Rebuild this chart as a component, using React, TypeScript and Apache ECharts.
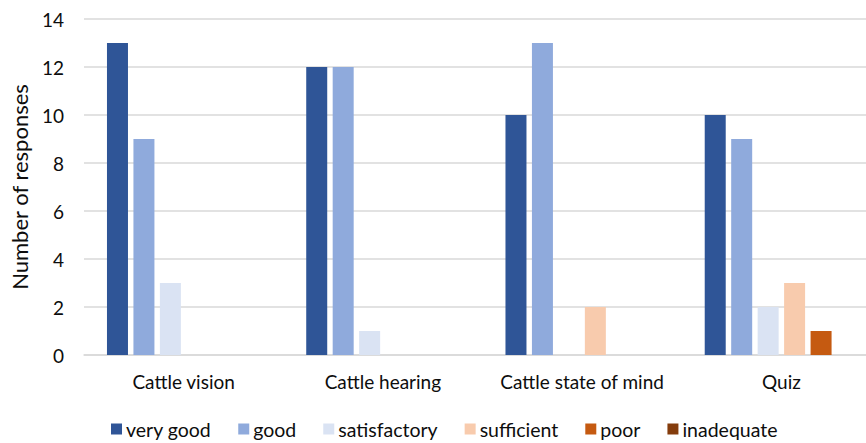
import React, { useEffect, useRef } from "react";
import * as echarts from "echarts";

const categories = ["Cattle vision", "Cattle hearing", "Cattle state of mind", "Quiz"];
const seriesNames = ["very good", "good", "satisfactory", "sufficient", "poor", "inadequate"];
const veryGood = [13, 12, 10, 10];
const good = [9, 12, 13, 9];
const satisfactory = [3, 1, 0, 2];
const sufficient = [0, 0, 2, 3];
const poor = [0, 0, 0, 1];
const inadequate = [0, 0, 0, 0];
const seriesValues = [veryGood, good, satisfactory, sufficient, poor, inadequate];
const colors = ["#2F5597", "#8FAADC", "#DAE3F3", "#F8CBAD", "#C55A11", "#843C0C"];
const yTicks = { min: 0, max: 14, interval: 2 };

const FONT = "Lato";
const TEXT = "#0d0d0d";

export default function App() {
  const ref = useRef<HTMLDivElement>(null);
  useEffect(() => {
    if (!ref.current) return;
    const chart = echarts.init(ref.current, null, { renderer: "svg" });
    chart.setOption({
      animation: false,
      backgroundColor: "#ffffff",
      textStyle: { fontFamily: FONT, color: TEXT },
      grid: { left: 81, top: 19, width: 800, height: 336, containLabel: false },
      legend: {
        data: seriesNames,
        left: 106,
        top: 414,
        icon: "rect",
        itemWidth: 11,
        itemHeight: 11,
        itemGap: 27,
        textStyle: { fontFamily: FONT, fontSize: 19.5, color: TEXT, padding: [0, 0, 0, -1] },
      },
      xAxis: {
        type: "category",
        data: categories,
        axisTick: { show: false },
        axisLine: { lineStyle: { color: "#D9D9D9", width: 1.5 } },
        axisLabel: { fontFamily: FONT, fontSize: 19, color: TEXT, margin: 17, interval: 0 },
      },
      yAxis: {
        type: "value",
        min: yTicks.min,
        max: yTicks.max,
        interval: yTicks.interval,
        name: "Number of responses",
        nameLocation: "middle",
        nameGap: 54,
        nameTextStyle: { fontFamily: FONT, fontSize: 22, color: TEXT },
        axisLine: { show: false },
        axisTick: { show: false },
        axisLabel: { fontFamily: FONT, fontSize: 19, color: TEXT, margin: 20 },
        splitLine: { lineStyle: { color: "#D9D9D9", width: 1.5 } },
      },
      series: seriesNames.map((name, i) => ({
        name,
        type: "bar",
        data: seriesValues[i],
        barWidth: 21,
        barGap: "26%",
        itemStyle: { color: colors[i] },
      })),
    });
    return () => chart.dispose();
  }, []);
  return (
    <div style={{ position: "fixed", left: 0, top: 0, width: 866, height: 443, overflow: "hidden", background: "#fff" }}>
      <div ref={ref} style={{ position: "absolute", left: 0, top: 0, width: 900, height: 443 }} />
    </div>
  );
}
